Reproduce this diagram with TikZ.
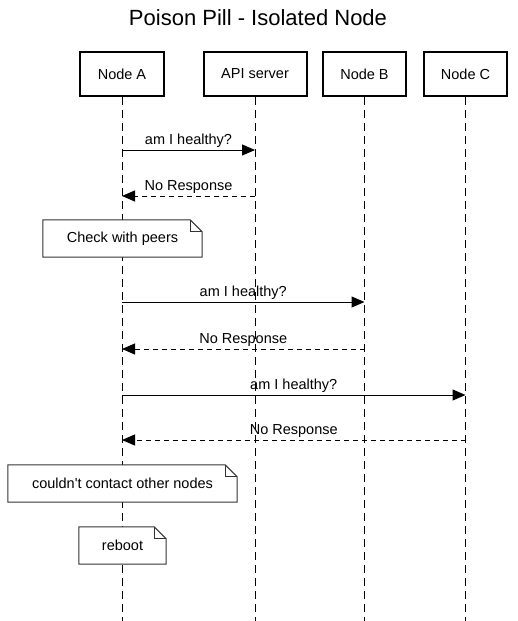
\documentclass[tikz,border=0pt]{standalone}
\usepackage{fontspec}
\setmainfont{Liberation Sans}
\newfontfamily\lsans{Liberation Sans}
\usetikzlibrary{arrows.meta}
\begin{document}
\begin{tikzpicture}[x=1pt,y=-1pt,
  participant/.style={draw=black,line width=2pt,fill=white,minimum width=84pt,minimum height=44pt,inner sep=0pt,font=\fontsize{14.5}{17}\selectfont},
  lifeline/.style={draw=black,line width=1pt,dash pattern=on 8pt off 5pt},
  msg/.style={draw=black,line width=1pt,-{Triangle[length=13pt,width=11pt]}},
  reply/.style={msg,dash pattern=on 5pt off 4pt},
  lbl/.style={font=\fontsize{14.5}{17}\selectfont,above=1pt,midway,inner sep=1pt},
  notebox/.style={fill=white,inner sep=0pt,font=\lsans\fontsize{14.5}{17}\selectfont},
  noteline/.style={draw=black!80,line width=1pt}
]
\useasboundingbox (0,0) rectangle (517,621);
\node[font=\fontsize{22}{26}\selectfont] (title) at (258,18) {Poison Pill - Isolated Node};
% participants
\node[participant] (A) at (122,74) {Node A};
\node[participant,minimum width=103pt] (API) at (255,74) {API server};
\node[participant,minimum width=83pt] (B) at (364.5,74) {Node B};
\node[participant,minimum width=83pt] (C) at (465.5,74) {Node C};
% lifeline ends
\coordinate (Ae) at (122,621);
\coordinate (APIe) at (255,621);
\coordinate (Be) at (364.5,621);
\coordinate (Ce) at (465.5,621);
\draw[lifeline] (A.south) -- (Ae);
\draw[lifeline] (API.south) -- (APIe);
\draw[lifeline] (B.south) -- (Be);
\draw[lifeline] (C.south) -- (Ce);
% message rows
\coordinate (m1) at (0,150);
\coordinate (m2) at (0,196);
\coordinate (m3) at (0,302);
\coordinate (m4) at (0,349);
\coordinate (m5) at (0,395);
\coordinate (m6) at (0,440);
\draw[msg] (A |- m1) -- (API |- m1) node[lbl] {am I healthy?};
\draw[reply] (API |- m2) -- (A |- m2) node[lbl] {No Response};
\draw[msg] (A |- m3) -- (B |- m3) node[lbl] {am I healthy?};
\draw[reply] (B |- m4) -- (A |- m4) node[lbl] {No Response};
\draw[msg] (A |- m5) -- (C |- m5) node[lbl] {am I healthy?};
\draw[reply] (C |- m6) -- (A |- m6) node[lbl] {No Response};
% notes
\node[notebox,minimum width=159pt,minimum height=37pt] (n1) at (122.5,238.5) {Check with peers};
\node[notebox,minimum width=229pt,minimum height=37pt] (n2) at (122.5,483.5) {couldn't contact other nodes};
\node[notebox,minimum width=87pt,minimum height=37pt] (n3) at (122.5,545.5) {reboot};
\foreach \n in {n1,n2,n3}{
  \draw[noteline] (\n.south west) -- (\n.north west) -- ([xshift=-12pt]\n.north east)
    -- ([yshift=-12pt]\n.north east) -- (\n.south east) -- cycle;
  \draw[noteline] ([xshift=-12pt]\n.north east) -- ([xshift=-12pt,yshift=-12pt]\n.north east) -- ([yshift=-12pt]\n.north east);
}
\end{tikzpicture}
\end{document}
